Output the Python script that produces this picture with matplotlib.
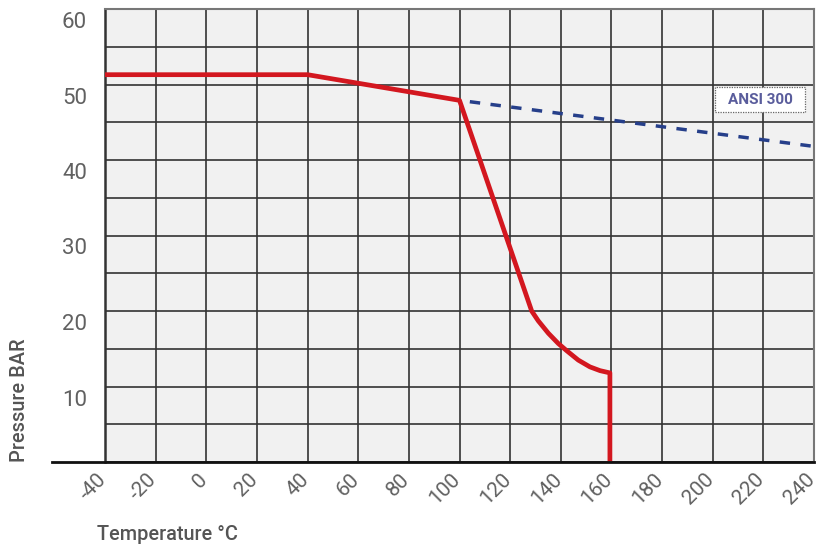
import matplotlib
matplotlib.use("Agg")
import matplotlib.pyplot as plt
import matplotlib.transforms as mtransforms
from matplotlib.lines import Line2D
from matplotlib.patches import Rectangle

# ---- data ----
red_temp = [-40, 40, 100, 128.5, 131.1, 135.1, 139.0, 142.3, 146.9, 151.5, 155.5, 159.4, 159.4]
red_pres = [51.3, 51.3, 47.9, 20.0, 18.7, 17.05, 15.7, 14.75, 13.5, 12.6, 12.1, 11.8, 0]
ansi_temp = [100, 240]
ansi_pres = [47.9, 41.8]
x_ticks = list(range(-40, 241, 20))
x_labels = [str(v) for v in x_ticks]
y_ticks = list(range(0, 61, 5))
y_labels = [str(v) if (v % 10 == 0 and v > 0) else "" for v in y_ticks]
ansi_label = "ANSI 300"
x_title = "Temperature °C"
y_title = "Pressure BAR"

W, H = 821, 552
fig = plt.figure(figsize=(W / 100, H / 100), dpi=100)
L, R, T, B = 105, 814, 9, 462
ax = fig.add_axes([L / W, 1 - B / H, (R - L) / W, (B - T) / H])
ax.set_facecolor("#f1f1f1")
ax.set_xlim(-40, 240)
ax.set_ylim(0, 60)

ax.set_xticks(x_ticks)
ax.set_xticklabels(x_labels)
ax.set_yticks(y_ticks)
ax.set_yticklabels(y_labels)
ax.grid(True, color="#333333", linewidth=1.2, zorder=1)
ax.set_axisbelow(True)
ax.tick_params(length=0)
ax.tick_params(axis="y", pad=13, labelsize=16, labelcolor="#616161")
ax.tick_params(axis="x", pad=4, labelsize=15, labelcolor="#616161")

for lab in ax.get_yticklabels():
    lab.set_fontfamily("Roboto")
    lab.set_fontweight("normal")
    lab.set_transform(lab.get_transform() +
                      mtransforms.ScaledTranslation(0, -0.11, fig.dpi_scale_trans))
for lab in ax.get_xticklabels():
    lab.set_fontfamily("Roboto")
    lab.set_fontweight("normal")
    lab.set_rotation(45)
    lab.set_ha("right")
    lab.set_va("center")
    lab.set_rotation_mode("anchor")
    lab.set_transform(lab.get_transform() +
                      mtransforms.ScaledTranslation(-0.02, -0.09, fig.dpi_scale_trans))

for s in ["top", "right"]:
    ax.spines[s].set_color("#777777")
    ax.spines[s].set_linewidth(1.5)
ax.spines["left"].set_color("#333333")
ax.spines["left"].set_linewidth(1.8)
ax.spines["bottom"].set_visible(False)

# bottom axis line extending to the left
ax.add_line(Line2D([-(L - 52) / (R - L), 1.0], [0, 0], transform=ax.transAxes,
                   color="#111111", linewidth=2.0, clip_on=False, zorder=5))

ax.plot(ansi_temp, ansi_pres, color="#263f8a", linewidth=2.5,
        linestyle=(3.0, (3.0, 3.0)), zorder=3)
ax.plot(red_temp, red_pres, color="#d3171f", linewidth=3.4, zorder=4,
        solid_joinstyle="round")

# ANSI 300 label box
fig.patches.append(Rectangle((715 / W, 1 - 112 / H), 90 / W, 25 / H,
                             transform=fig.transFigure, facecolor="white",
                             edgecolor="#666666", linewidth=0.9,
                             linestyle=(0, (1, 1)), zorder=6))
fig.text(760 / W, 1 - 100 / H, ansi_label, ha="center", va="center",
         fontsize=11, fontweight="bold", family="Roboto", color="#5a5d9c",
         zorder=7)

fig.text(20 / W, 1 - B / H, y_title, rotation=90, ha="center", va="bottom",
         fontsize=14.3, fontweight="medium", family="Roboto", color="#555555")
fig.text(97 / W, 1 - 535 / H, x_title, ha="left", va="center",
         fontsize=14.3, fontweight="medium", family="Roboto", color="#555555")

fig.savefig("out.png", dpi=100)
